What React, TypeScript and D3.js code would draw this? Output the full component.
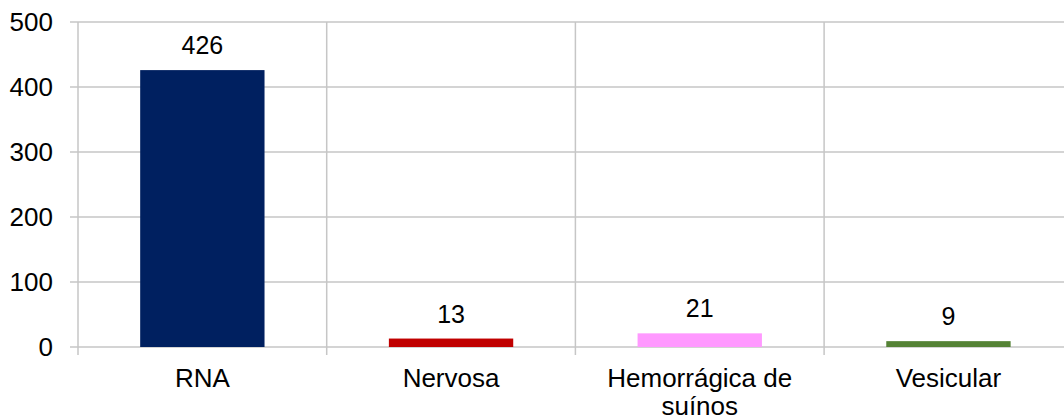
import * as d3 from "d3";
import { useEffect, useRef } from "react";

const categories = ["RNA", "Nervosa", "Hemorrágica de suínos", "Vesicular"];
const values = [426, 13, 21, 9];
const colors = ["#002060", "#c00000", "#ff99ff", "#548235"];
const yTicks = [0, 100, 200, 300, 400, 500];

export default function App() {
  const ref = useRef<SVGSVGElement>(null);

  useEffect(() => {
    const width = 1064;
    const left = 78;
    const top = 22;
    const bottom = 347;
    const font = "Liberation Sans, Arial, sans-serif";

    const svg = d3.select(ref.current);
    svg.selectAll("*").remove();

    const x = d3.scaleBand().domain(categories).range([left, left + 4 * 248.7]).padding(0);
    const y = d3.scaleLinear().domain([0, 500]).range([bottom, top]);

    // horizontal grid
    svg.selectAll(".hgrid").data(yTicks).enter().append("line")
      .attr("x1", left - 8).attr("x2", width)
      .attr("y1", d => y(d)).attr("y2", d => y(d))
      .attr("stroke", "#c6c6c6").attr("stroke-width", 1.5);

    // vertical grid at category boundaries
    svg.selectAll(".vgrid").data(categories).enter().append("line")
      .attr("x1", d => x(d)!).attr("x2", d => x(d)!)
      .attr("y1", top).attr("y2", bottom + 8)
      .attr("stroke", "#c6c6c6").attr("stroke-width", 1.5);

    svg.selectAll(".ylab").data(yTicks).enter().append("text")
      .attr("x", 53).attr("y", d => y(d)).attr("dy", "0.36em")
      .attr("text-anchor", "end")
      .style("font", `26px ${font}`).style("fill", "#000")
      .text(d => d);

    const bw = x.bandwidth() * 0.5;
    svg.selectAll(".bar").data(values).enter().append("rect")
      .attr("x", (d, i) => x(categories[i])! + (x.bandwidth() - bw) / 2)
      .attr("width", bw)
      .attr("y", d => y(d))
      .attr("height", d => bottom - y(d))
      .attr("fill", (d, i) => colors[i]);

    svg.selectAll(".vlab").data(values).enter().append("text")
      .attr("x", (d, i) => x(categories[i])! + x.bandwidth() / 2)
      .attr("y", d => y(d) - 16)
      .attr("text-anchor", "middle")
      .style("font", `25px ${font}`).style("fill", "#000")
      .text(d => d);

    // category labels, wrapped
    const labels = svg.selectAll(".xlab").data(categories).enter().append("text")
      .attr("x", d => x(d)! + x.bandwidth() / 2)
      .attr("y", 387)
      .attr("text-anchor", "middle")
      .style("font", `26px ${font}`).style("fill", "#000");
    labels.each(function (d) {
      const t = d3.select(this);
      const words = d.split(" ");
      let line: string[] = [];
      const cx = t.attr("x");
      let ts = t.append("tspan").attr("x", cx).attr("dy", 0);
      for (const w of words) {
        line.push(w);
        ts.text(line.join(" "));
        if ((ts.node() as SVGTSpanElement).getComputedTextLength() > 215 && line.length > 1) {
          line.pop();
          ts.text(line.join(" "));
          line = [w];
          ts = t.append("tspan").attr("x", cx).attr("dy", 28).text(w);
        }
      }
    });
  }, []);

  return (
    <svg ref={ref} width={1064} height={419}
      style={{ position: "absolute", left: 0, top: 0, background: "#fff", display: "block" }} />
  );
}
